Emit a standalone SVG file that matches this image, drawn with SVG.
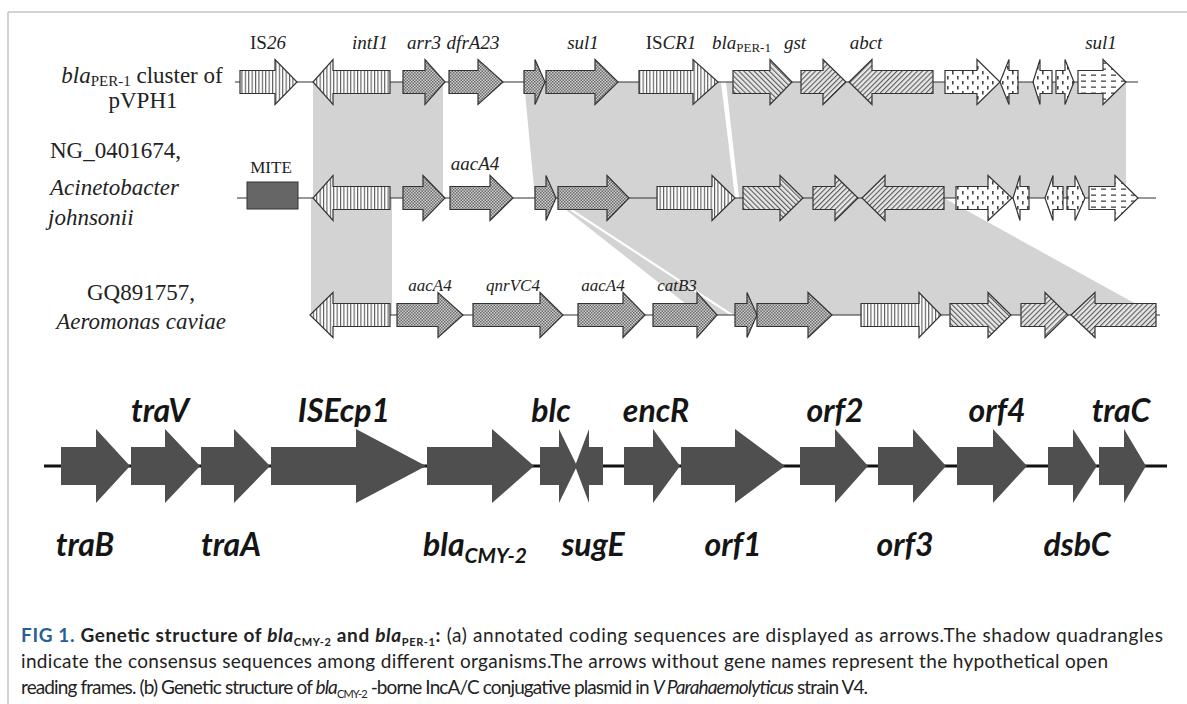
<svg xmlns="http://www.w3.org/2000/svg" width="1187" height="704" viewBox="0 0 1187 704">
<style>
.ser{font-family:"Liberation Serif","Times New Roman",serif;fill:#222}
.g1{font-size:19px}
.g3{font-size:17px}
.lab{font-size:23px}
.it{font-style:italic}
.ln{stroke:#333;stroke-width:1.2;fill:none}
.ar{stroke:#333;stroke-width:1.2;stroke-linejoin:miter}
.sh{fill:#d3d3d3}
.b{fill:#4f4f4f}
.bl{font-family:Lato,"Open Sans",sans-serif;font-weight:bold;font-style:italic;font-size:32px;fill:#151515}
.cap{font-family:Lato,"Open Sans",sans-serif;font-size:19px;fill:#222}
.vs{fill:url(#vstripe)}
.ck{fill:url(#check)}
.bs{fill:url(#bslash)}
.fs{fill:url(#fslash)}
.dt{fill:url(#dots)}
.ds{fill:url(#dashes)}
</style>
<defs>
<pattern id="vstripe" patternUnits="userSpaceOnUse" width="3.4" height="10"><rect width="3.4" height="10" fill="#fff"/><line x1="0.6" y1="0" x2="0.6" y2="10" stroke="#333" stroke-width="0.9"/></pattern>
<pattern id="check" patternUnits="userSpaceOnUse" width="3" height="3"><rect width="3" height="3" fill="#cfcfcf"/><rect width="1.5" height="1.5" fill="#6a6a6a"/><rect x="1.5" y="1.5" width="1.5" height="1.5" fill="#6a6a6a"/></pattern>
<pattern id="bslash" patternUnits="userSpaceOnUse" width="3.6" height="10" patternTransform="rotate(-45)"><rect width="3.6" height="10" fill="#e6e6e6"/><line x1="0.6" y1="0" x2="0.6" y2="10" stroke="#333" stroke-width="0.9"/></pattern>
<pattern id="fslash" patternUnits="userSpaceOnUse" width="3.6" height="10" patternTransform="rotate(45)"><rect width="3.6" height="10" fill="#e6e6e6"/><line x1="0.6" y1="0" x2="0.6" y2="10" stroke="#333" stroke-width="0.9"/></pattern>
<pattern id="dots" patternUnits="userSpaceOnUse" width="10" height="10"><rect width="10" height="10" fill="#fff"/><rect x="2" y="1" width="1.6" height="3.5" fill="#444"/><rect x="7" y="6" width="1.6" height="3.5" fill="#444"/></pattern>
<pattern id="dashes" patternUnits="userSpaceOnUse" width="10" height="6"><rect width="10" height="6" fill="#fff"/><rect x="1" y="2.5" width="5" height="1.3" fill="#444"/></pattern>
</defs>

<g id="frame" fill="none" stroke="#c4c4c4" stroke-width="1.5">
<line x1="8" y1="12" x2="1187" y2="12"/>
<line x1="8" y1="12" x2="8" y2="704"/>
</g>

<g id="shading">
<polygon class="sh" points="313,82 443,82 443,198 313,198"/>
<polygon class="sh" points="524,82 721,82 735,198 535,198"/>
<polygon class="sh" points="726,82 1126,82 1126,198 739,198"/>
<polygon class="sh" points="311,198 392,198 392,315 311,315"/>
<polygon class="sh" points="551,198 700,315 730,315"/>
<polygon class="sh" points="555,198 944,198 1156,315 734,315"/>
</g>

<g id="connectors">
<line class="ln" x1="235" y1="82" x2="1138" y2="82"/>
<line class="ln" x1="237" y1="198" x2="1156" y2="198"/>
<line class="ln" x1="310" y1="315" x2="1160" y2="315"/>
<line x1="44" y1="466" x2="1167" y2="466" stroke="#111" stroke-width="3"/>
</g>

<g id="track-labels" class="ser">
<text class="lab" x="142" y="83" text-anchor="middle"><tspan class="it">bla</tspan><tspan font-size="15" dy="3">PER-1</tspan><tspan dy="-3"> cluster of</tspan></text>
<text class="lab" x="143" y="108" text-anchor="middle">pVPH1</text>
<text class="lab" x="50" y="158">NG_0401674,</text>
<text class="lab it" x="50" y="195">Acinetobacter</text>
<text class="lab it" x="48" y="225">johnsonii</text>
<text class="lab" x="141" y="300" text-anchor="middle">GQ891757,</text>
<text class="lab it" x="141" y="329" text-anchor="middle">Aeromonas caviae</text>
</g>

<g id="row1">
<g id="r1-IS26"><path class="ar vs" d="M240,70.5H275V59.5L297,82L275,104.5V93.5H240Z"/><text class="ser g1" x="268" y="49" text-anchor="middle">IS<tspan class="it">26</tspan></text></g>
<g id="r1-intI1"><path class="ar vs" d="M390,70.5H333V59.5L313,82L333,104.5V93.5H390Z"/><text class="ser g1 it" x="370" y="49" text-anchor="middle">intI1</text></g>
<g id="r1-arr3"><path class="ar ck" d="M403,70.5H425V59.5L445,82L425,104.5V93.5H403Z"/><text class="ser g1 it" x="424" y="49" text-anchor="middle">arr3</text></g>
<g id="r1-dfrA23"><path class="ar ck" d="M449,70.5H478V59.5L503,82L478,104.5V93.5H449Z"/><text class="ser g1 it" x="473" y="49" text-anchor="middle">dfrA23</text></g>
<g id="r1-small"><path class="ar ck" d="M524,70.5H535V59.5L545,82L535,104.5V93.5H524Z"/></g>
<g id="r1-sul1"><path class="ar ck" d="M546,70.5H595V59.5L618,82L595,104.5V93.5H546Z"/><text class="ser g1 it" x="583" y="49" text-anchor="middle">sul1</text></g>
<g id="r1-ISCR1"><path class="ar vs" d="M639,70.5H693V59.5L718,82L693,104.5V93.5H639Z"/><text class="ser g1" x="671" y="49" text-anchor="middle">IS<tspan class="it">CR1</tspan></text></g>
<g id="r1-blaPER1"><path class="ar bs" d="M733,70.5H770V59.5L792,82L770,104.5V93.5H733Z"/><text class="ser g1" x="712" y="49"><tspan class="it">bla</tspan><tspan font-size="13" dy="3">PER-1</tspan></text></g>
<g id="r1-gst"><path class="ar fs" d="M801,70.5H823V59.5L846,82L823,104.5V93.5H801Z"/><text class="ser g1 it" x="795" y="49" text-anchor="middle">gst</text></g>
<g id="r1-abct"><path class="ar fs" d="M933,70.5H872V59.5L849,82L872,104.5V93.5H933Z"/><text class="ser g1 it" x="866" y="49" text-anchor="middle">abct</text></g>
<g id="r1-orfA"><path class="ar dt" d="M945,70.5H977V59.5L1000,82L977,104.5V93.5H945Z"/></g>
<g id="r1-orfB"><path class="ar dt" d="M1018,70.5H1009V59.5L1000,82L1009,104.5V93.5H1018Z"/></g>
<g id="r1-orfC"><path class="ar dt" d="M1052,70.5H1040V59.5L1033,82L1040,104.5V93.5H1052Z"/></g>
<g id="r1-orfD"><path class="ar dt" d="M1056,70.5H1065V59.5L1074,82L1065,104.5V93.5H1056Z"/></g>
<g id="r1-sul1b"><path class="ar ds" d="M1078,70.5H1103V59.5L1126,82L1103,104.5V93.5H1078Z"/><text class="ser g1 it" x="1101" y="49" text-anchor="middle">sul1</text></g>
</g>

<g id="row2">
<g id="r2-MITE"><rect x="247" y="182" width="51" height="27" fill="#666" stroke="#333" stroke-width="1"/><text class="ser" font-size="17" x="271" y="173" text-anchor="middle">MITE</text></g>
<g id="r2-intI1"><path class="ar vs" d="M390,186.5H333V175.5L313,198L333,220.5V209.5H390Z"/></g>
<g id="r2-arr3"><path class="ar ck" d="M403,186.5H423V175.5L445,198L423,220.5V209.5H403Z"/></g>
<g id="r2-aacA4"><path class="ar ck" d="M450,186.5H490V175.5L513,198L490,220.5V209.5H450Z"/><text class="ser g1 it" x="475" y="170" text-anchor="middle">aacA4</text></g>
<g id="r2-small"><path class="ar ck" d="M535,186.5H546V175.5L556,198L546,220.5V209.5H535Z"/></g>
<g id="r2-big"><path class="ar ck" d="M558,186.5H607V175.5L629,198L607,220.5V209.5H558Z"/></g>
<g id="r2-ISCR1"><path class="ar vs" d="M657,186.5H712V175.5L735,198L712,220.5V209.5H657Z"/></g>
<g id="r2-bla"><path class="ar bs" d="M743,186.5H780V175.5L803,198L780,220.5V209.5H743Z"/></g>
<g id="r2-gst"><path class="ar fs" d="M813,186.5H835V175.5L858,198L835,220.5V209.5H813Z"/></g>
<g id="r2-abct"><path class="ar fs" d="M944,186.5H885V175.5L862,198L885,220.5V209.5H944Z"/></g>
<g id="r2-orfA"><path class="ar dt" d="M956,186.5H988V175.5L1012,198L988,220.5V209.5H956Z"/></g>
<g id="r2-orfB"><path class="ar dt" d="M1029,186.5H1020V175.5L1013,198L1020,220.5V209.5H1029Z"/></g>
<g id="r2-orfC"><path class="ar dt" d="M1063,186.5H1053V175.5L1045,198L1053,220.5V209.5H1063Z"/></g>
<g id="r2-orfD"><path class="ar dt" d="M1067,186.5H1075V175.5L1085,198L1075,220.5V209.5H1067Z"/></g>
<g id="r2-sul1"><path class="ar ds" d="M1089,186.5H1115V175.5L1138,198L1115,220.5V209.5H1089Z"/></g>
</g>

<g id="row3">
<g id="r3-intI1"><path class="ar vs" d="M390,303.5H333V292.5L310,315L333,337.5V326.5H390Z"/></g>
<g id="r3-aacA4a"><path class="ar ck" d="M397,303.5H438V292.5L463,315L438,337.5V326.5H397Z"/><text class="ser g3 it" x="430" y="291" text-anchor="middle">aacA4</text></g>
<g id="r3-qnrVC4"><path class="ar ck" d="M473,303.5H540V292.5L563,315L540,337.5V326.5H473Z"/><text class="ser g3 it" x="513" y="291" text-anchor="middle">qnrVC4</text></g>
<g id="r3-aacA4b"><path class="ar ck" d="M578,303.5H623V292.5L645,315L623,337.5V326.5H578Z"/><text class="ser g3 it" x="603" y="291" text-anchor="middle">aacA4</text></g>
<g id="r3-catB3"><path class="ar ck" d="M653,303.5H697V292.5L717,315L697,337.5V326.5H653Z"/><text class="ser g3 it" x="677" y="291" text-anchor="middle">catB3</text></g>
<g id="r3-small"><path class="ar ck" d="M735,303.5H747V292.5L757,315L747,337.5V326.5H735Z"/></g>
<g id="r3-big"><path class="ar ck" d="M757,303.5H808V292.5L832,315L808,337.5V326.5H757Z"/></g>
<g id="r3-ISCR1"><path class="ar vs" d="M861,303.5H919V292.5L941,315L919,337.5V326.5H861Z"/></g>
<g id="r3-bla"><path class="ar bs" d="M950,303.5H988V292.5L1011,315L988,337.5V326.5H950Z"/></g>
<g id="r3-gst"><path class="ar fs" d="M1021,303.5H1045V292.5L1068,315L1045,337.5V326.5H1021Z"/></g>
<g id="r3-abct"><path class="ar fs" d="M1156,303.5H1095V292.5L1071,315L1095,337.5V326.5H1156Z"/></g>
</g>

<g id="plasmid">
<g id="traB"><path class="b" d="M61,447H96V429L130,466L96,503V485H61Z"/><text class="bl" x="85" y="556" text-anchor="middle">traB</text></g>
<g id="traV"><path class="b" d="M131,447H165V429L200,466L165,503V485H131Z"/><text class="bl" x="160" y="422" text-anchor="middle">traV</text></g>
<g id="traA"><path class="b" d="M201,447H234V429L270,466L234,503V485H201Z"/><text class="bl" x="231" y="556" text-anchor="middle">traA</text></g>
<g id="ISEcp1"><path class="b" d="M271,447H356V429L426,466L356,503V485H271Z"/><text class="bl" x="344" y="422" text-anchor="middle">ISEcp1</text></g>
<g id="blaCMY2"><path class="b" d="M427,447H492V429L534,466L492,503V485H427Z"/><text class="bl" x="423" y="556">bla<tspan font-size="21" dy="7">CMY-2</tspan></text></g>
<g id="blc"><path class="b" d="M540,447H559V429L577,466L559,503V485H540Z"/><text class="bl" x="551" y="422" text-anchor="middle">blc</text></g>
<g id="sugE"><path class="b" d="M603,447H589V429L575,466L589,503V485H603Z"/><text class="bl" x="593" y="556" text-anchor="middle">sugE</text></g>
<g id="encR"><path class="b" d="M624,447H653V429L680,466L653,503V485H624Z"/><text class="bl" x="656" y="422" text-anchor="middle">encR</text></g>
<g id="orf1"><path class="b" d="M681,447H735V429L785,466L735,503V485H681Z"/><text class="bl" x="733" y="556" text-anchor="middle">orf1</text></g>
<g id="orf2"><path class="b" d="M800,447H835V429L868,466L835,503V485H800Z"/><text class="bl" x="835" y="422" text-anchor="middle">orf2</text></g>
<g id="orf3"><path class="b" d="M878,447H913V429L946,466L913,503V485H878Z"/><text class="bl" x="905" y="556" text-anchor="middle">orf3</text></g>
<g id="orf4"><path class="b" d="M957,447H993V429L1027,466L993,503V485H957Z"/><text class="bl" x="997" y="422" text-anchor="middle">orf4</text></g>
<g id="dsbC"><path class="b" d="M1048,447H1073V429L1097,466L1073,503V485H1048Z"/><text class="bl" x="1077" y="556" text-anchor="middle">dsbC</text></g>
<g id="traC"><path class="b" d="M1099,447H1124V429L1146,466L1124,503V485H1099Z"/><text class="bl" x="1121" y="422" text-anchor="middle">traC</text></g>
</g>

<g id="caption" class="cap">
<text x="21" y="642" textLength="1142" lengthAdjust="spacing"><tspan font-weight="bold" fill="#2a5f95">FIG 1.</tspan><tspan font-weight="bold"> Genetic structure of </tspan><tspan font-weight="bold" font-style="italic">bla</tspan><tspan font-weight="bold" font-size="11" dy="4">CMY-2</tspan><tspan font-weight="bold" dy="-4"> and </tspan><tspan font-weight="bold" font-style="italic">bla</tspan><tspan font-weight="bold" font-size="11" dy="4">PER-1</tspan><tspan font-weight="bold" dy="-4">:</tspan> (a) annotated coding sequences are displayed as arrows.The shadow quadrangles</text>
<text x="21" y="668" textLength="1087" lengthAdjust="spacing">indicate the consensus sequences among different organisms.The arrows without gene names represent the hypothetical open</text>
<text x="21" y="694" textLength="847" lengthAdjust="spacing">reading frames. (b) Genetic structure of <tspan font-style="italic">bla</tspan><tspan font-size="11" dy="4">CMY-2</tspan><tspan dy="-4"> -borne IncA/C conjugative plasmid in </tspan><tspan font-style="italic">V Parahaemolyticus</tspan> strain V4.</text>
</g>
</svg>
